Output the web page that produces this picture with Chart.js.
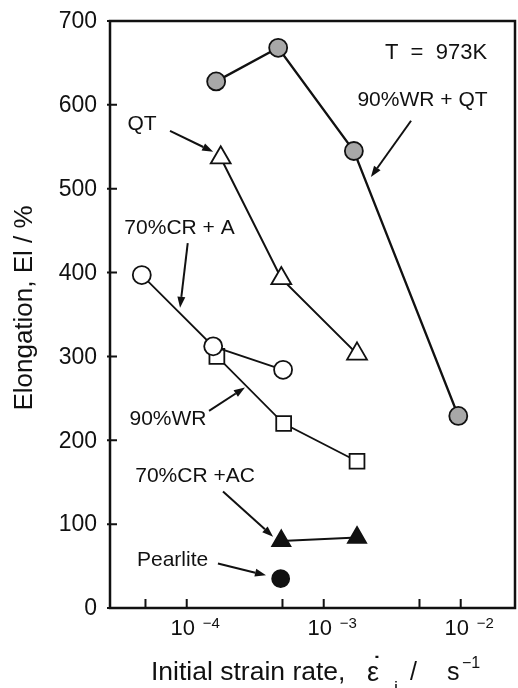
<!DOCTYPE html>
<html>
<head>
<meta charset="utf-8">
<script src="https://cdn.jsdelivr.net/npm/chart.js@4.4.0/dist/chart.umd.min.js"></script>
<style>
  html, body { margin: 0; padding: 0; background: #fff; overflow: hidden; }
  #wrap { width: 518px; height: 688px; overflow: hidden; }
  canvas { display: block; }
</style>
</head>
<body>
<div id="wrap"><canvas id="elong_plot" width="518" height="688"></canvas></div>
<script>
'use strict';

// initial strain rate (1/s) and elongation (%)
const wrqtRate = [1.64e-4, 4.65e-4, 1.66e-3, 9.6e-3];
const wrqtElong = [628, 668, 545, 229];
const qtRate = [1.77e-4, 4.9e-4, 1.75e-3];
const qtElong = [537, 393, 303];
const crARate = [4.7e-5, 1.56e-4, 5.05e-4];
const crAElong = [397, 312, 284];
const wrRate = [1.66e-4, 5.1e-4, 1.75e-3];
const wrElong = [300, 220, 175];
const crACRate = [4.9e-4, 1.75e-3];
const crACElong = [80, 84];
const pearliteRate = [4.85e-4];
const pearliteElong = [35];

// axis ticks
const yTicks = [0, 100, 200, 300, 400, 500, 600, 700];
const xMajorTicks = [1e-4, 1e-3, 1e-2];
const xMajorExp = ['\u22124', '\u22123', '\u22122'];
const xMinorTicks = [5e-5, 5e-4, 5e-3];

// labels and arrows, placed in data units
const notes = [
    { text: 'T  =  973K', x: 6.6e-3, y: 662, size: 22 },
    { text: '90%WR + QT', x: 5.26e-3, y: 606, from: [4.34e-3, 581], to: [2.21e-3, 514] },
    { text: 'QT', x: 4.72e-5, y: 577, from: [7.55e-5, 569], to: [1.56e-4, 544] },
    { text: '70%CR + A', x: 8.86e-5, y: 453, from: [1.017e-4, 435], to: [8.94e-5, 358] },
    { text: '90%WR', x: 7.3e-5, y: 225, from: [1.455e-4, 235], to: [2.66e-4, 263] },
    { text: '70%CR +AC', x: 1.15e-4, y: 157, from: [1.84e-4, 139], to: [4.27e-4, 85] },
    { text: 'Pearlite', x: 7.88e-5, y: 57, from: [1.69e-4, 53], to: [3.79e-4, 39] }
];

const FONT = "'Liberation Sans', Arial, sans-serif";
const INK = '#111';

function toPoints(rates, elongs) {
    return rates.map((r, i) => ({ x: r, y: elongs[i] }));
}

function series(rates, elongs, style, radius, fill, width) {
    return {
        data: toPoints(rates, elongs),
        showLine: true,
        borderColor: INK,
        borderWidth: width,
        pointStyle: style,
        pointRadius: radius,
        pointHoverRadius: radius,
        pointBackgroundColor: fill,
        pointBorderColor: INK,
        pointBorderWidth: 1.8,
        tension: 0
    };
}

function drawArrow(ctx, x1, y1, x2, y2) {
    const ang = Math.atan2(y2 - y1, x2 - x1);
    const len = 11;
    const half = 4;
    const bx = x2 - Math.cos(ang) * len;
    const by = y2 - Math.sin(ang) * len;
    ctx.beginPath();
    ctx.moveTo(x1, y1);
    ctx.lineTo(bx, by);
    ctx.stroke();
    ctx.beginPath();
    ctx.moveTo(x2, y2);
    ctx.lineTo(bx - Math.sin(ang) * half, by + Math.cos(ang) * half);
    ctx.lineTo(bx + Math.sin(ang) * half, by - Math.cos(ang) * half);
    ctx.closePath();
    ctx.fill();
}

const framePlugin = {
    id: 'frame',
    afterDraw(chart) {
        const ctx = chart.ctx;
        const a = chart.chartArea;
        const xs = chart.scales.x;
        const ys = chart.scales.y;
        ctx.save();
        ctx.strokeStyle = INK;
        ctx.fillStyle = INK;

        // box
        ctx.lineWidth = 2.5;
        ctx.strokeRect(a.left, a.top, a.right - a.left, a.bottom - a.top);

        // inward ticks
        ctx.lineWidth = 2;
        ctx.beginPath();
        yTicks.forEach(v => {
            const py = ys.getPixelForValue(v);
            ctx.moveTo(a.left - 3, py);
            ctx.lineTo(a.left + 7, py);
        });
        xMajorTicks.concat(xMinorTicks).forEach(v => {
            const px = xs.getPixelForValue(v);
            ctx.moveTo(px, a.bottom);
            ctx.lineTo(px, a.bottom - 9);
        });
        ctx.stroke();

        // y tick labels
        ctx.font = '23px ' + FONT;
        ctx.textAlign = 'right';
        ctx.textBaseline = 'middle';
        yTicks.forEach(v => {
            ctx.fillText(String(v), a.left - 13, ys.getPixelForValue(v) + 1);
        });

        // x tick labels, 10 with raised exponent
        ctx.textBaseline = 'alphabetic';
        xMajorTicks.forEach((v, i) => {
            const px = xs.getPixelForValue(v);
            ctx.font = '22px ' + FONT;
            ctx.textAlign = 'center';
            ctx.fillText('10', px - 4, 635);
            ctx.font = '15px ' + FONT;
            ctx.textAlign = 'left';
            ctx.fillText(xMajorExp[i], px + 16, 628);
        });

        // y axis title
        ctx.save();
        ctx.translate(32, 308);
        ctx.rotate(-Math.PI / 2);
        ctx.font = '26px ' + FONT;
        ctx.textAlign = 'center';
        ctx.fillText('Elongation, El / %', 0, 0);
        ctx.restore();

        // x axis title
        ctx.textAlign = 'left';
        ctx.font = '26.5px ' + FONT;
        ctx.fillText('Initial strain rate,', 151, 680);
        ctx.font = '27px ' + FONT;
        ctx.fillText('\u03b5', 367, 681);
        ctx.font = 'bold 22px ' + FONT;
        ctx.textAlign = 'center';
        ctx.fillText('\u02d9', 377, 672);
        ctx.font = '18px ' + FONT;
        ctx.fillText('i', 396, 694);
        ctx.textAlign = 'left';
        ctx.font = '25px ' + FONT;
        ctx.fillText('/', 410, 680);
        ctx.fillText('s', 447, 680);
        ctx.font = '16px ' + FONT;
        ctx.fillText('\u22121', 462, 668);

        // annotations
        ctx.textAlign = 'center';
        ctx.textBaseline = 'middle';
        ctx.lineWidth = 2;
        notes.forEach(n => {
            ctx.font = (n.size || 21) + 'px ' + FONT;
            ctx.fillText(n.text, xs.getPixelForValue(n.x), ys.getPixelForValue(n.y));
            if (n.from) {
                drawArrow(ctx,
                    xs.getPixelForValue(n.from[0]), ys.getPixelForValue(n.from[1]),
                    xs.getPixelForValue(n.to[0]), ys.getPixelForValue(n.to[1]));
            }
        });
        ctx.restore();
    }
};

const chart = new Chart(document.getElementById('elong_plot'), {
    type: 'scatter',
    data: {
        datasets: [
            series(wrqtRate, wrqtElong, 'circle', 9, '#a8a8a8', 2.3),
            series(qtRate, qtElong, 'triangle', 11.5, '#fff', 2),
            series(crARate, crAElong, 'circle', 9, '#fff', 1.8),
            series(wrRate, wrElong, 'rect', 10.5, '#fff', 1.8),
            series(crACRate, crACElong, 'triangle', 10.5, INK, 2),
            series(pearliteRate, pearliteElong, 'circle', 8.5, INK, 2)
        ]
    },
    options: {
        responsive: false,
        animation: false,
        layout: {
            autoPadding: false,
            padding: { left: 110, top: 21, right: 3, bottom: 80 }
        },
        scales: {
            x: { type: 'logarithmic', display: false, min: 2.754e-5, max: 0.0249 },
            y: { type: 'linear', display: false, min: 0, max: 700 }
        },
        plugins: {
            legend: { display: false },
            tooltip: { enabled: false }
        }
    },
    plugins: [framePlugin]
});
</script>
</body>
</html>
